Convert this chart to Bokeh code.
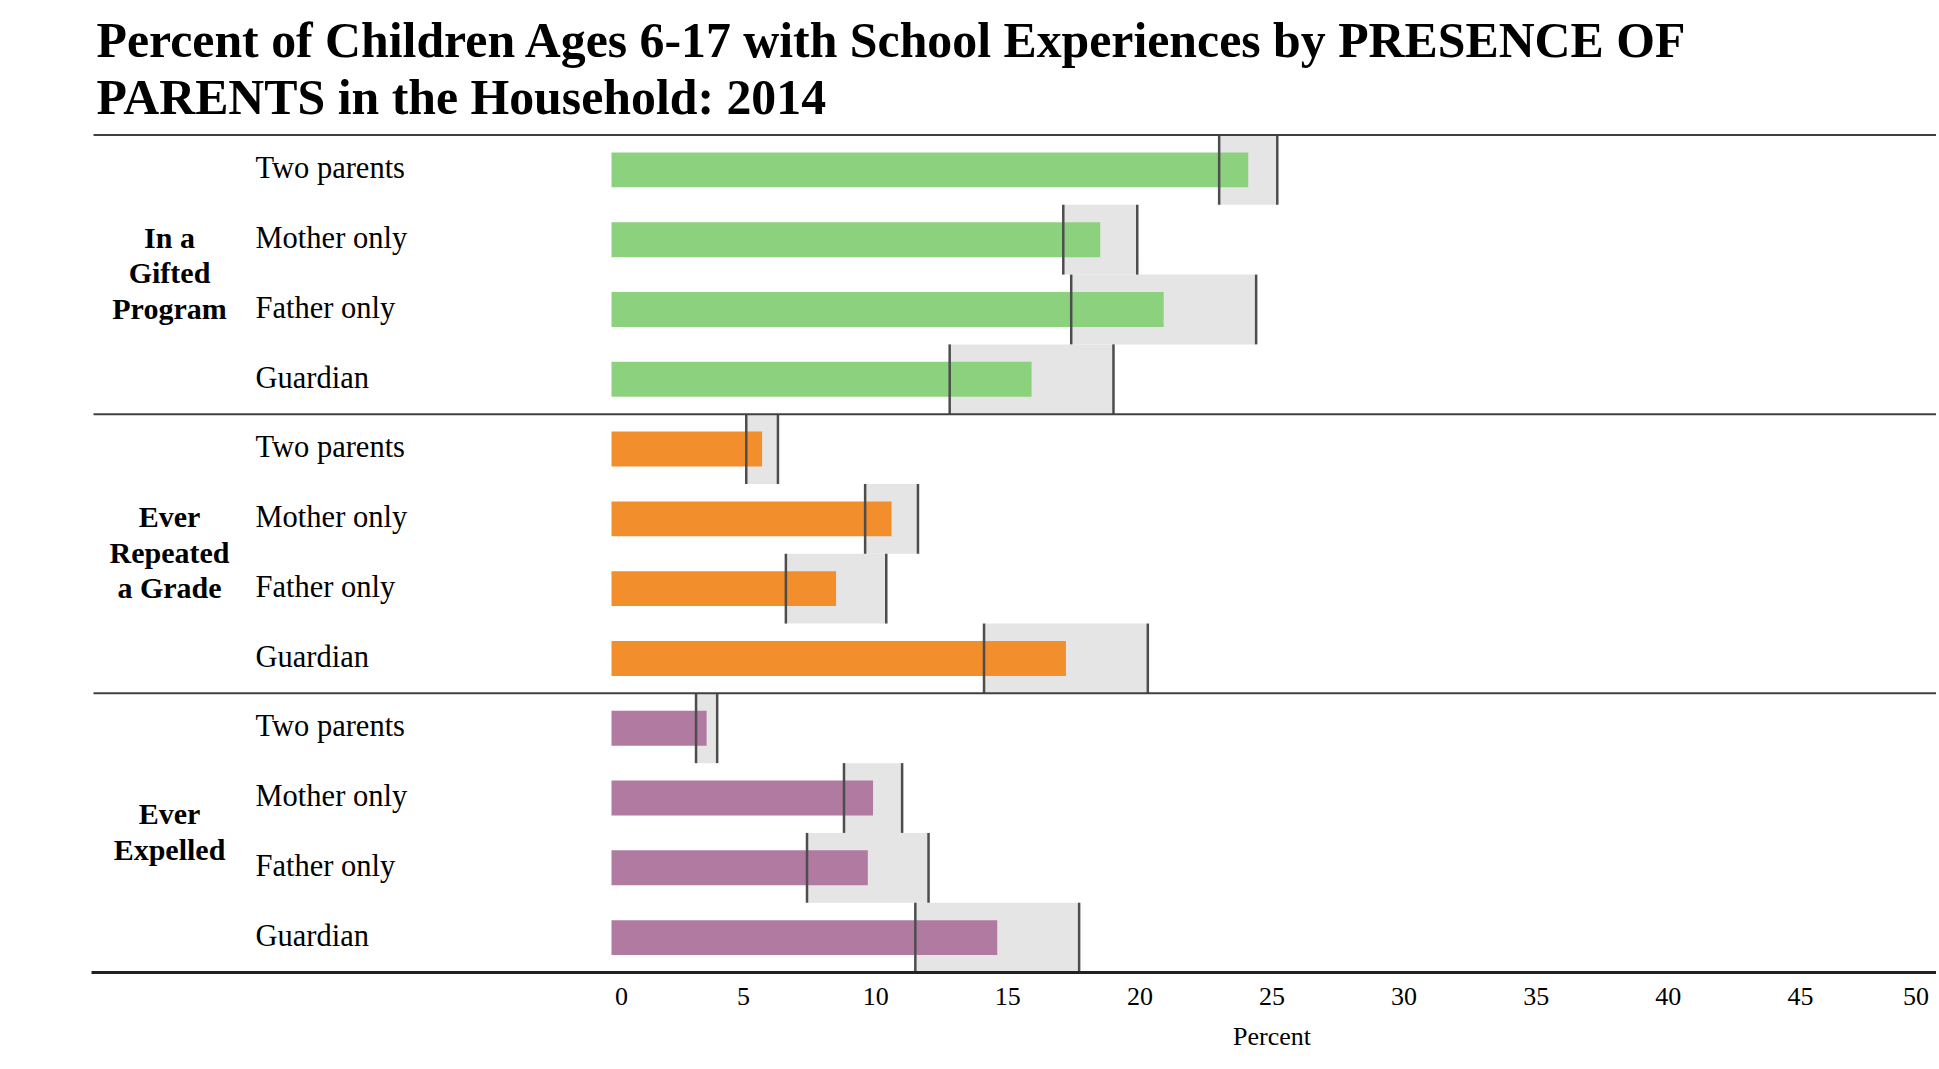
from bokeh.plotting import figure
from bokeh.models import Range1d, ColumnDataSource
from bokeh.core.properties import value
from bokeh.embed import file_html
from bokeh.resources import INLINE

# ---------------- data ----------------
title_lines = ["Percent of Children Ages 6-17 with School Experiences by PRESENCE OF",
               "PARENTS in the Household: 2014"]
households = ["Two parents", "Mother only", "Father only", "Guardian"]
group_labels = [["In a", "Gifted", "Program"],
                ["Ever", "Repeated", "a Grade"],
                ["Ever", "Expelled"]]

gifted = [24.1, 18.5, 20.9, 15.9]
gifted_lo = [23.0, 17.1, 17.4, 12.8]
gifted_hi = [25.2, 19.9, 24.4, 19.0]

repeated = [5.7, 10.6, 8.5, 17.2]
repeated_lo = [5.1, 9.6, 6.6, 14.1]
repeated_hi = [6.3, 11.6, 10.4, 20.3]

expelled = [3.6, 9.9, 9.7, 14.6]
expelled_lo = [3.2, 8.8, 7.4, 11.5]
expelled_hi = [4.0, 11.0, 12.0, 17.7]

tick_values = [0, 5, 10, 15, 20, 25, 30, 35, 40, 45, 50]
x_label = "Percent"

series = [(gifted, gifted_lo, gifted_hi, "#8CD17D"),
          (repeated, repeated_lo, repeated_hi, "#F28E2B"),
          (expelled, expelled_lo, expelled_hi, "#B07AA1")]

# ---------------- layout ----------------
W, H = 1936, 1060
X0C, X50C = 611.0, 1932.0  # canvas px of x=0 and x=50
SX = (X50C - X0C) / 50.0
TOPC, BOTC = 134.5, 972.0  # canvas px of top rule and bottom rule
NROWS = 12
RY = (BOTC - TOPC) / NROWS
BFIX = 0.33                # baseline correction (fraction of font size)

def fx(px):
    return (px - X0C) / SX

def fy(py):
    return (BOTC - py) / RY

x_range = Range1d(-X0C / SX, 50 + (W - X50C) / SX)
y_range = Range1d(-(H - BOTC) / RY, NROWS + TOPC / RY)

p = figure(width=W, height=H, x_range=x_range, y_range=y_range,
           output_backend="svg", toolbar_location=None,
           x_axis_type=None, y_axis_type=None,
           min_border=0, min_border_left=0, min_border_right=0,
           min_border_top=0, min_border_bottom=0)
p.outline_line_color = None
p.grid.visible = False
p.background_fill_color = "white"
p.border_fill_color = "white"

SERIF = value("Liberation Serif")

# rows
rows_y, vals, los, his, cols, labels = [], [], [], [], [], []
for g, (v, lo, hi, c) in enumerate(series):
    for i in range(4):
        r = g * 4 + i
        rows_y.append(NROWS - r - 0.5)
        vals.append(v[i]); los.append(lo[i]); his.append(hi[i]); cols.append(c)
        labels.append(households[i])

src = ColumnDataSource(dict(y=rows_y, v=vals, lo=los, hi=his, c=cols,
                            top=[y + 0.5 for y in rows_y],
                            bot=[y - 0.5 for y in rows_y],
                            zero=[0] * len(rows_y), lab=labels))

# confidence bands
p.quad(left="lo", right="hi", top="top", bottom="bot", source=src,
       fill_color="#E5E5E5", line_color=None)
# bars
p.hbar(y="y", left="zero", right="v", height=0.5, source=src,
       fill_color="c", line_color=None)
# CI ends
p.segment(x0="lo", y0="bot", x1="lo", y1="top", source=src,
          line_color="#4D4D4D", line_width=2.5)
p.segment(x0="hi", y0="bot", x1="hi", y1="top", source=src,
          line_color="#4D4D4D", line_width=2.5)

# horizontal rules
rule_y = [12, 8, 4]
p.segment(x0=[fx(93)] * 3, y0=rule_y, x1=[fx(W + 5)] * 3, y1=rule_y,
          line_color="#404040", line_width=2)
p.segment(x0=[fx(91)], y0=[0], x1=[fx(W + 5)], y1=[0],
          line_color="#222222", line_width=3)

# row labels
fs_row = 30.5
p.text(x=fx(255), y="y", text="lab", source=src, text_font=SERIF,
       text_font_size=f"{fs_row}px", text_color="black", text_align="left",
       text_baseline="alphabetic", y_offset=8.3 - BFIX * fs_row)

# group labels
fs_grp = 30
for g, lines in enumerate(group_labels):
    cy = NROWS - g * 4 - 2
    n = len(lines)
    for k, line in enumerate(lines):
        p.text(x=[fx(169)], y=[cy], text=[line], text_font=SERIF,
               text_font_style="bold", text_font_size=f"{fs_grp}px", text_color="black",
               text_align="center", text_baseline="alphabetic",
               y_offset=8.3 + (k - (n - 1) / 2) * 35.6 - BFIX * fs_grp)

# title
fs_t = 49.8
for k, line in enumerate(title_lines):
    p.text(x=[fx(96)], y=[fy(56.7 + 56.6 * k)], text=[line], text_font=SERIF,
           text_font_style="bold", text_font_size=f"{fs_t}px", text_color="black",
           text_align="left", text_baseline="alphabetic", y_offset=-BFIX * fs_t)

# x tick labels
fs_tk = 26
ty = fy(1004.5)
mid = tick_values[1:-1]
p.text(x=mid, y=[ty] * len(mid), text=[str(t) for t in mid], text_font=SERIF,
       text_font_size=f"{fs_tk}px", text_color="black", text_align="center",
       text_baseline="alphabetic", y_offset=-BFIX * fs_tk)
p.text(x=[tick_values[0]], y=[ty], text=[str(tick_values[0])], text_font=SERIF,
       text_font_size=f"{fs_tk}px", text_color="black", text_align="left",
       text_baseline="alphabetic", x_offset=3.5, y_offset=-BFIX * fs_tk)
p.text(x=[tick_values[-1]], y=[ty], text=[str(tick_values[-1])], text_font=SERIF,
       text_font_size=f"{fs_tk}px", text_color="black", text_align="right",
       text_baseline="alphabetic", x_offset=-3.5, y_offset=-BFIX * fs_tk)
p.text(x=[25], y=[fy(1045)], text=[x_label], text_font=SERIF,
       text_font_size=f"{fs_tk}px", text_color="black", text_align="center",
       text_baseline="alphabetic", y_offset=-BFIX * fs_tk)

open("out.html", "w").write(file_html(p, INLINE))
